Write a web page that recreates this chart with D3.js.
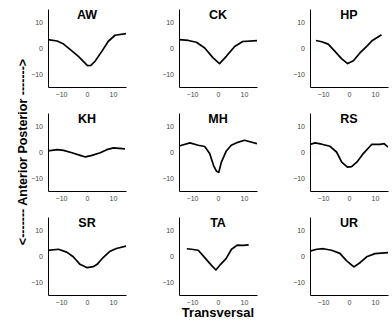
<!DOCTYPE html>
<html><head><meta charset="utf-8">
<script src="https://cdn.jsdelivr.net/npm/d3@7"></script>
<style>body{margin:0;background:#fff}svg{display:block}text{font-family:"Liberation Sans",Arial,sans-serif}</style>
</head><body><svg id="c" width="392" height="323"></svg>
<script>
const subjects = ["AW","CK","HP","KH","MH","RS","SR","TA","UR"];
const xTicks = [-10, 0, 10];
const yTicks = [-10, 0, 10];
const AW = [[-15,3.2],[-11.5,2.7],[-9,1.5],[-6.4,-0.6],[-3.3,-3.2],[0.2,-6.8],[1.5,-6.7],[3.1,-5.1],[5.7,-1.3],[8.2,2.6],[10.8,4.9],[15,5.5]];
const CK = [[-15,3.2],[-11.4,2.9],[-8.3,2.2],[-5.1,0],[-1.9,-3.8],[0.6,-6.0],[3.2,-3.2],[6.4,0.6],[9.5,2.5],[15,2.8]];
const HP = [[-12.7,2.9],[-10.5,2.4],[-8,1.5],[-5.4,-1.3],[-2.8,-4.2],[-0.5,-6.0],[1.7,-4.9],[4.2,-1.9],[6.8,0.6],[9,2.9],[12.5,5.1]];
const KH = [[-15,0.4],[-11.5,0.9],[-9,0.6],[-5.8,-0.3],[-2.6,-1.3],[-0.6,-1.9],[1.9,-1.3],[5.1,-0.3],[7.6,0.9],[10.2,1.6],[14.6,1.2]];
const MH = [[-15,2.3],[-10.8,3.5],[-7.6,2.6],[-5.1,2.1],[-3.2,-0.6],[-1.7,-5.2],[-0.6,-7.4],[0.3,-7.8],[1.3,-3.9],[3.2,0.4],[5.1,2.6],[7.0,3.5],[10.2,4.5],[15,3.2]];
const RS = [[-15,2.9],[-13,3.5],[-10.5,3.0],[-7.3,2.2],[-4.8,0],[-2.8,-3.9],[-0.6,-5.8],[1,-5.6],[3,-3.9],[5.5,-0.6],[8.7,2.9],[11.9,2.9],[13.5,3.2],[15,1.9]];
const SR = [[-15,2.2],[-11,2.6],[-7.8,1.5],[-5.3,-0.3],[-2.7,-3.2],[0.1,-4.5],[2.4,-4.1],[3.9,-3.2],[6.2,-0.6],[8.7,1.7],[11.3,2.9],[15,3.8]];
const TA = [[-12,2.8],[-10.2,2.6],[-7.6,2.2],[-5.1,-0.6],[-2.5,-3.6],[-0.8,-5.4],[1,-3.2],[3.1,-1.0],[5.2,2.6],[7.4,4.2],[9.7,4.1],[11.8,4.3]];
const UR = [[-15,1.9],[-12.4,2.6],[-9.9,2.8],[-6.7,2.2],[-3.5,1.0],[-0.9,-1.9],[1.9,-4.2],[4.2,-2.6],[6.8,-0.3],[10,0.9],[15,1.3]];
const series = {AW,CK,HP,KH,MH,RS,SR,TA,UR};

const svg = d3.select("#c");
const W = 78, H = 78;
const lefts = [48, 179, 310], tops = [9, 113, 217];
const x = d3.scaleLinear().domain([-15,15]).range([0,W]);
const y = d3.scaleLinear().domain([-15,15]).range([H,0]);
svg.append("defs").append("clipPath").attr("id","clip").append("rect").attr("width",W).attr("height",H);
const line = d3.line().x(d=>x(d[0])).y(d=>y(d[1]));

subjects.forEach((s,i)=>{
  const g = svg.append("g").attr("transform",`translate(${lefts[i%3]},${tops[Math.floor(i/3)]})`);
  const xa = g.append("g").attr("transform",`translate(0,${H})`)
    .call(d3.axisBottom(x).tickValues(xTicks).tickSize(0).tickPadding(5).tickFormat(d=>d<0?"\u2212"+(-d):d));
  const ya = g.append("g")
    .call(d3.axisLeft(y).tickValues(yTicks).tickSize(0).tickPadding(5).tickFormat(d=>d<0?"\u2212"+(-d):d));
  [xa,ya].forEach(a=>{
    a.select(".domain").attr("stroke","#000").attr("stroke-width",1);
    a.selectAll("text").attr("font-size",7).attr("fill","#444").attr("font-family","Liberation Sans, Arial, sans-serif");
  });
  g.append("path").datum(series[s]).attr("clip-path","url(#clip)")
    .attr("d",line).attr("fill","none").attr("stroke","#000").attr("stroke-width",1.7).attr("stroke-linejoin","round");
  g.append("text").attr("x",W/2).attr("y",9.5).attr("text-anchor","middle")
    .attr("font-size",12.5).attr("font-weight","bold").text(s);
});

svg.append("text").attr("x",218).attr("y",317).attr("text-anchor","middle")
  .attr("font-size",13).attr("font-weight","bold").text("Transversal");
svg.append("text").attr("transform","translate(27,152) rotate(-90)").attr("text-anchor","middle")
  .attr("font-size",12.5).attr("font-weight","bold").text("<------- Anterior Posterior ------->");
</script></body></html>
